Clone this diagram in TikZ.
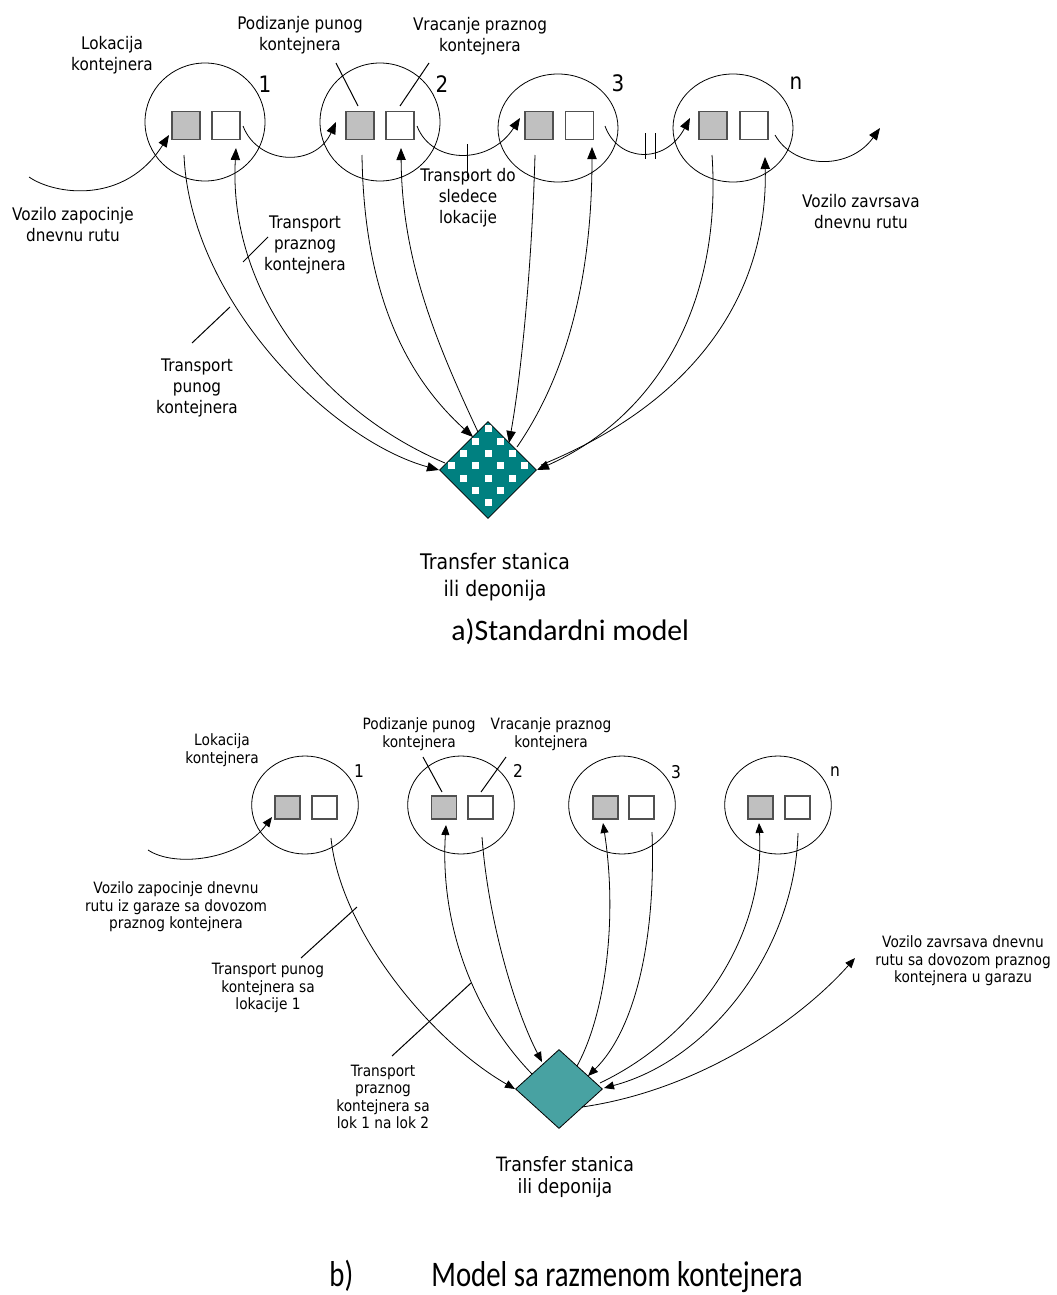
\documentclass[tikz,border=0pt]{standalone}
\usepackage{fontspec}
\newfontfamily\labfont{DejaVu Sans}[FakeStretch=0.88]
\newfontfamily\capfont{Carlito}
\newfontfamily\capnarrow{Carlito}[FakeStretch=0.8]
\usetikzlibrary{shapes.geometric,arrows.meta}
\definecolor{tealdark}{HTML}{008080}
\definecolor{teallight}{HTML}{48A2A2}
\definecolor{boxgray}{HTML}{C0C0C0}
\definecolor{boxedge}{HTML}{505050}

\begin{document}
\begin{tikzpicture}[x=0.75pt,y=-0.75pt,
  line width=0.6pt,
  loc/.style={draw, ellipse, inner sep=0pt},
  fullbox/.style={draw=boxedge, fill=boxgray, inner sep=0pt, line width=0.9pt},
  emptybox/.style={draw=boxedge, fill=white, inner sep=0pt, line width=0.9pt},
  topbox/.style={minimum width=21pt, minimum height=20.5pt},
  botbox/.style={minimum width=18.75pt, minimum height=17.25pt},
  toplab/.style={font=\labfont\fontsize{13}{15.75}\selectfont, align=center, inner sep=0pt},
  botlab/.style={font=\labfont\fontsize{11.7}{13.2}\selectfont, align=center, inner sep=0pt},
  topnum/.style={font=\labfont\fontsize{17}{20}\selectfont, inner sep=0pt},
  botnum/.style={font=\labfont\fontsize{13.2}{16}\selectfont, inner sep=0pt},
  flow/.style={-{Triangle[length=9pt,width=7pt]}},
  flowb/.style={-{Triangle[length=7.5pt,width=6pt]}},
  leader/.style={line width=0.75pt},
  captionA/.style={font=\capfont\fontsize{22.3}{26}\selectfont, inner sep=0pt, anchor=base west},
  captionB/.style={font=\capnarrow\fontsize{27}{30}\selectfont, inner sep=0pt, anchor=base west},
]
\useasboundingbox (0,0) rectangle (1056,1295);

% ================= a) standard model =================
\node[loc, minimum width=90pt, minimum height=88.5pt] (L1) at (205,122) {};
\node[loc, minimum width=90pt, minimum height=88.5pt] (L2) at (380,122) {};
\node[loc, minimum width=90pt, minimum height=81pt] (L3) at (558,128) {};
\node[loc, minimum width=90pt, minimum height=81pt] (Ln) at (733,128) {};

\node[fullbox, topbox] (g1) at (186,125.5) {};
\node[emptybox, topbox] (w1) at (226,125.5) {};
\node[fullbox, topbox] (g2) at (360,125.5) {};
\node[emptybox, topbox] (w2) at (400,125.5) {};
\node[fullbox, topbox] (g3) at (539,125.5) {};
\node[emptybox, topbox] (w3) at (579.5,125.5) {};
\node[fullbox, topbox] (gn) at (713,125.5) {};
\node[emptybox, topbox] (wn) at (754,125.5) {};

\node[topnum] (n1) at (265,84) {1};
\node[topnum] (n2) at (442,84) {2};
\node[topnum] (n3) at (618,83) {3};
\node[topnum] (nn) at (796,83) {n};

% transfer station with a checked fill (white squares on a diagonal lattice)
\node[diamond, draw, fill=tealdark, minimum width=72.75pt, minimum height=72.75pt, inner sep=0pt,
  path picture={
    \foreach \i in {-5,...,5}{
      \foreach \j in {-5,...,5}{
        \pgfmathtruncatemacro\parity{mod(\i+\j+20,2)}
        \ifnum\parity=0
          \fill[white] ([shift={(\i*12.3-3.5,\j*12.3+8-3.5)}]path picture bounding box.center) rectangle ++(7,7);
        \fi
      }}
  }] (dep) at (488,470) {};

% route coordinates
\coordinate (startA) at (29,177);
\coordinate (tipA1) at (169,135);
\coordinate (outA1) at (243,126);
\coordinate (tipA2) at (336,122);
\coordinate (outA2) at (417,126);
\coordinate (tipA3) at (520,118);
\coordinate (outA3) at (605,126);
\coordinate (tipAn) at (690,118);
\coordinate (outAn) at (775,135);
\coordinate (endA) at (880,128);

\draw[flow] (startA) .. controls (55,195) and (125,205) .. (tipA1);
\draw[flow] (outA1) .. controls (258,165) and (315,168) .. (tipA2);
\draw[flow] (outA2) .. controls (432,165) and (490,165) .. (tipA3);
\draw[flow] (outA3) .. controls (618,162) and (665,165) .. (tipAn);
\draw[flow] (outAn) .. controls (795,170) and (850,170) .. (endA);
\coordinate (tk1a) at (645,133); \coordinate (tk1b) at (645,159);
\coordinate (tk2a) at (655,133); \coordinate (tk2b) at (655,159);
\draw (tk1a) -- (tk1b);
\draw (tk2a) -- (tk2b);

% container trips to and from the station
\coordinate (g1o) at (184,155);
\coordinate (w1i) at (236,148);
\coordinate (g2o) at (362,155);
\coordinate (w2i) at (401,148);
\coordinate (g3o) at (535,155);
\coordinate (w3i) at (592,147);
\coordinate (gno) at (712,155);
\coordinate (wni) at (765,157);
\coordinate (dL) at (439,470);
\coordinate (dLo) at (445,463);
\coordinate (dTL) at (473,437);
\coordinate (dTLo) at (478,432);
\coordinate (dTR) at (509,443);
\coordinate (dTRo) at (517,447);
\coordinate (dR) at (537,470);
\coordinate (dRo) at (541,465);

\draw[flow] (g1o) .. controls (190,300) and (330,440) .. (dL);
\draw[flow] (dLo) .. controls (320,410) and (228,290) .. (w1i);
\draw[flow] (g2o) .. controls (364,300) and (410,380) .. (dTL);
\draw[flow] (dTLo) .. controls (435,340) and (402,260) .. (w2i);
\draw[flow] (g3o) .. controls (532,260) and (522,370) .. (dTR);
\draw[flow] (dTRo) .. controls (570,370) and (592,270) .. (w3i);
\draw[flow] (gno) .. controls (722,300) and (660,415) .. (dR);
\draw[flow] (dRo) .. controls (700,400) and (768,290) .. (wni);

% labels
\node[toplab] (lokA) at (112,55) {Lokacija\\kontejnera};
\node[toplab] (podA) at (300,35.5) {Podizanje punog\\kontejnera};
\node[toplab] (vraA) at (480,36) {Vracanje praznog\\kontejnera};
\coordinate (podAa) at (336,63); \coordinate (podAb) at (358,106);
\coordinate (vraAa) at (429,63); \coordinate (vraAb) at (400,106);
\draw[leader] (podAa) -- (podAb);
\draw[leader] (vraAa) -- (vraAb);

\coordinate (sledA) at (467,144); \coordinate (sledB) at (467,178);
\draw[leader] (sledA) -- (sledB);
\node[toplab] (sled) at (468,198) {Transport do\\sledece\\lokacije};
\node[toplab] (pocA) at (73,225) {Vozilo zapocinje\\dnevnu rutu};
\node[toplab] (krajA) at (861,212) {Vozilo zavrsava\\dnevnu rutu};
\node[toplab] (prazA) at (305,245) {Transport\\praznog\\kontejnera};
\node[toplab] (punA) at (197,388) {Transport\\punog\\kontejnera};
\coordinate (prazAa) at (268,237); \coordinate (prazAb) at (243,262);
\coordinate (punAa) at (192,343); \coordinate (punAb) at (230,307);
\draw[leader] (prazAa) -- (prazAb);
\draw[leader] (punAa) -- (punAb);
\node[font=\labfont\fontsize{16.1}{20.2}\selectfont, align=center, inner sep=0pt] (depA) at (495,577) {Transfer stanica\\ili deponija};
\node[captionA] (capA) at (451,640) {a)Standardni model};

% ================= b) container exchange model =================
\node[loc, minimum width=80pt, minimum height=73.5pt] (M1) at (305,805) {};
\node[loc, minimum width=80pt, minimum height=73.5pt] (M2) at (461,805) {};
\node[loc, minimum width=80pt, minimum height=73.5pt] (M3) at (622,805) {};
\node[loc, minimum width=80pt, minimum height=73.5pt] (Mn) at (778,805) {};

\node[fullbox, botbox] (h1) at (287.5,807.5) {};
\node[emptybox, botbox] (v1) at (324.5,807.5) {};
\node[fullbox, botbox] (h2) at (444,807.5) {};
\node[emptybox, botbox] (v2) at (480.5,807.5) {};
\node[fullbox, botbox] (h3) at (605.5,807.5) {};
\node[emptybox, botbox] (v3) at (641.5,807.5) {};
\node[fullbox, botbox] (hn) at (760.5,807.5) {};
\node[emptybox, botbox] (vn) at (797.5,807.5) {};

\node[botnum] (m1) at (359,771) {1};
\node[botnum] (m2) at (518,771) {2};
\node[botnum] (m3) at (676,772) {3};
\node[botnum] (mn) at (835,772) {n};

\node[diamond, draw, fill=teallight, minimum width=65.25pt, minimum height=59.25pt, inner sep=0pt] (depB) at (559,1089) {};

\coordinate (startB) at (148,850);
\coordinate (tipB1) at (272,817);
\draw[flowb] (startB) .. controls (175,868) and (240,860) .. (tipB1);

\coordinate (v1o) at (331,838);
\coordinate (h2i) at (446,825);
\coordinate (v2o) at (482,837);
\coordinate (h3i) at (603,823);
\coordinate (v3o) at (652,832);
\coordinate (hni) at (759,823);
\coordinate (vno) at (798,833);
\coordinate (eL) at (515,1089);
\coordinate (eTLo) at (532,1074);
\coordinate (eTL) at (542,1062);
\coordinate (eTRo) at (577,1066);
\coordinate (eTR) at (588,1076);
\coordinate (eRo) at (600,1083);
\coordinate (eR) at (604,1088);
\coordinate (eBRo) at (582,1107);
\coordinate (endB) at (855,958);

\draw[flowb] (v1o) .. controls (340,930) and (430,1040) .. (eL);
\draw[flowb] (eTLo) .. controls (470,1010) and (440,920) .. (h2i);
\draw[flowb] (v2o) .. controls (488,920) and (515,1010) .. (eTL);
\draw[flowb] (eTRo) .. controls (605,1015) and (618,920) .. (h3i);
\draw[flowb] (v3o) .. controls (656,940) and (635,1030) .. (eTR);
\draw[flowb] (eRo) .. controls (700,1035) and (765,935) .. (hni);
\draw[flowb] (vno) .. controls (795,950) and (710,1060) .. (eR);
\draw[flowb] (eBRo) .. controls (700,1090) and (800,1020) .. (endB);

\node[botlab] (lokB) at (222,750) {Lokacija\\kontejnera};
\node[botlab] (podB) at (419,734) {Podizanje punog\\kontejnera};
\node[botlab] (vraB) at (551,734) {Vracanje praznog\\kontejnera};
\coordinate (podBa) at (423,757); \coordinate (podBb) at (442,792);
\coordinate (vraBa) at (506,757); \coordinate (vraBb) at (481,792);
\draw[leader] (podBa) -- (podBb);
\draw[leader] (vraBa) -- (vraBb);

\node[botlab] (pocB) at (176,907) {Vozilo zapocinje dnevnu\\rutu iz garaze sa dovozom\\praznog kontejnera};
\node[botlab] (punB) at (268,988) {Transport punog\\kontejnera sa\\lokacije 1};
\coordinate (punBa) at (357,907); \coordinate (punBb) at (301,958);
\draw[leader] (punBa) -- (punBb);
\node[botlab] (prazB) at (383,1097) {Transport\\praznog\\kontejnera sa\\lok 1 na lok 2};
\coordinate (prazBa) at (471,983); \coordinate (prazBb) at (392,1056);
\draw[leader] (prazBa) -- (prazBb);
\node[botlab] (krajB) at (963,961) {Vozilo zavrsava dnevnu\\rutu sa dovozom praznog\\kontejnera u garazu};
\node[font=\labfont\fontsize{14.8}{16}\selectfont, align=center, inner sep=0pt] (depBl) at (565,1177) {Transfer stanica\\ili deponija};

\node[captionB] (capBa) at (329,1286) {b)};
\node[captionB] (capBb) at (431,1286) {Model sa razmenom kontejnera};

\end{tikzpicture}
\end{document}
